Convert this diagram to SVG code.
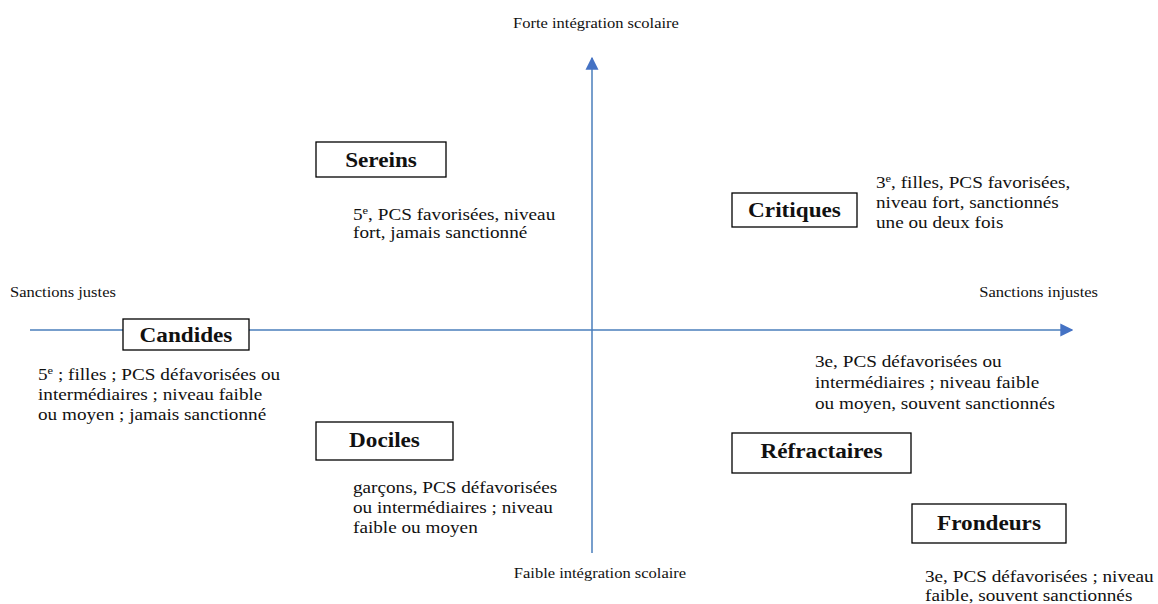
<svg xmlns="http://www.w3.org/2000/svg" width="1158" height="604" viewBox="0 0 1158 604">
<style>
.ax{stroke:#4a7ebb;stroke-width:1.5;fill:none}
.box{fill:#fff;stroke:#000;stroke-width:1.3}
text{font-family:"Liberation Serif","Times New Roman","DejaVu Serif",serif;fill:#111}
.lbl{font-size:14px;transform:scaleX(1.18);transform-box:fill-box;transform-origin:0 0}
.lblm{font-size:14px;text-anchor:middle;transform:scaleX(1.18);transform-box:fill-box;transform-origin:50% 50%}
.lble{font-size:14px;text-anchor:end;transform:scaleX(1.18);transform-box:fill-box;transform-origin:100% 0}
.body{font-size:17px;transform:scaleX(1.13);transform-box:fill-box;transform-origin:0 0}
.head{font-size:20px;font-weight:bold;text-anchor:middle;transform:scaleX(1.16);transform-box:fill-box;transform-origin:50% 50%}
.sup{font-size:11px}
</style>
<defs>
<marker id="ah" viewBox="0 0 10 10" refX="9" refY="5" markerWidth="13" markerHeight="14" markerUnits="userSpaceOnUse" orient="auto">
<path d="M0,0 L10,5 L0,10 z" fill="#4472c4"/>
</marker>
</defs>
<rect width="1158" height="604" fill="#fff"/>
<g id="connectors">
<line class="ax" x1="30" y1="330" x2="1072" y2="330" marker-end="url(#ah)"/>
<line class="ax" x1="592" y1="553" x2="592" y2="58" marker-end="url(#ah)"/>
</g>
<g id="axis-labels">
<text class="lblm" x="596" y="28">Forte intégration scolaire</text>
<text class="lblm" x="600" y="578">Faible intégration scolaire</text>
<text class="lbl" x="10" y="297">Sanctions justes</text>
<text class="lble" x="1098" y="297">Sanctions injustes</text>
</g>
<g id="sereins">
<rect class="box" x="316" y="142" width="130" height="35"/>
<text class="head" x="381" y="167">Sereins</text>
<text class="body" x="353" y="220">5<tspan class="sup" dy="-6">e</tspan><tspan dy="6">, PCS favorisées, niveau</tspan></text>
<text class="body" x="353" y="238">fort, jamais sanctionné</text>
</g>
<g id="critiques">
<rect class="box" x="732" y="193" width="125" height="34"/>
<text class="head" x="794.5" y="217">Critiques</text>
<text class="body" x="876" y="188">3<tspan class="sup" dy="-6">e</tspan><tspan dy="6">, filles, PCS favorisées,</tspan></text>
<text class="body" x="876" y="208">niveau fort, sanctionnés</text>
<text class="body" x="876" y="228">une ou deux fois</text>
</g>
<g id="candides">
<rect class="box" x="123" y="319" width="126" height="31"/>
<text class="head" x="186" y="342">Candides</text>
<text class="body" x="38" y="380">5<tspan class="sup" dy="-6">e</tspan><tspan dy="6"> ; filles ; PCS défavorisées ou</tspan></text>
<text class="body" x="38" y="400">intermédiaires ; niveau faible</text>
<text class="body" x="38" y="420">ou moyen ; jamais sanctionné</text>
</g>
<g id="dociles">
<rect class="box" x="316" y="422" width="137" height="38"/>
<text class="head" x="384.5" y="447">Dociles</text>
<text class="body" x="353" y="493">garçons, PCS défavorisées</text>
<text class="body" x="353" y="513">ou intermédiaires ; niveau</text>
<text class="body" x="353" y="533">faible ou moyen</text>
</g>
<g id="refractaires">
<rect class="box" x="732" y="433" width="179" height="40"/>
<text class="head" x="821.5" y="458">Réfractaires</text>
<text class="body" x="815" y="367">3e, PCS défavorisées ou</text>
<text class="body" x="815" y="388">intermédiaires ; niveau faible</text>
<text class="body" x="815" y="409">ou moyen, souvent sanctionnés</text>
</g>
<g id="frondeurs">
<rect class="box" x="912" y="504" width="154" height="39"/>
<text class="head" x="989" y="530">Frondeurs</text>
<text class="body" x="925" y="582">3e, PCS défavorisées ; niveau</text>
<text class="body" x="925" y="601">faible, souvent sanctionnés</text>
</g>
</svg>
